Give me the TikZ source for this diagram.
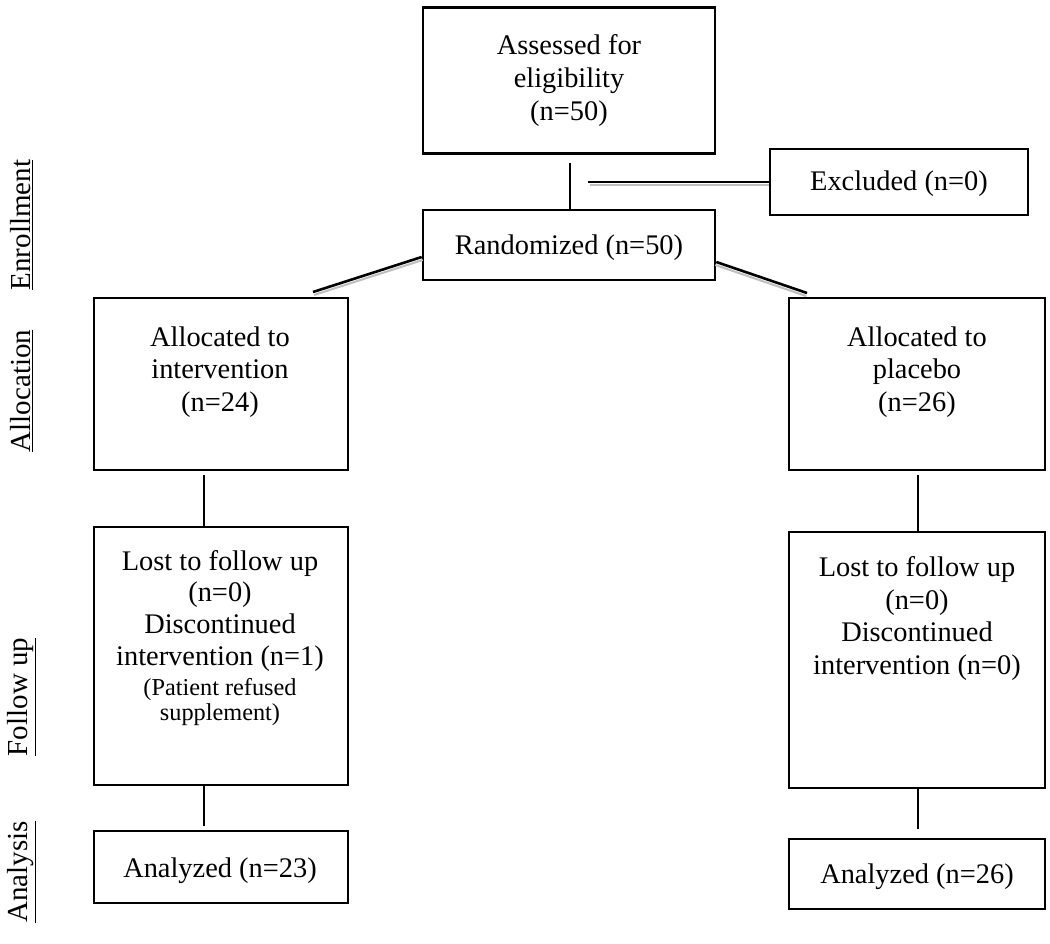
\documentclass[tikz,border=0pt]{standalone}
\usepackage{fontspec}
\setmainfont{Liberation Serif}
\begin{document}
\begin{tikzpicture}[x=1pt,y=-1pt,
  box/.style={draw=black, line width=2.6pt, inner sep=0pt, rectangle},
  txt/.style={align=center, inner sep=0pt, font=\fontsize{28.4}{32.3}\selectfont},
  smalltxt/.style={align=center, inner sep=0pt, font=\fontsize{24.3}{25}\selectfont},
  conn/.style={line width=2.6pt, black},
  shade/.style={line width=2pt, black!25},
  side/.style={rotate=90, inner sep=0pt, font=\fontsize{29}{33}\selectfont}
]
\useasboundingbox[fill=white] (0,0) rectangle (1050,943);

% boxes
\node[box, minimum width=292pt, minimum height=146pt] (assess) at (569,80.5) {};
\node[txt, anchor=north, font=\fontsize{28.4}{33}\selectfont] (assessT) at (569,34) {Assessed for\\eligibility\\(n=50)};

\node[box, minimum width=258pt, minimum height=66pt] (excl) at (899,182) {};
\node[txt] (exclT) at (899,183.5) {Excluded (n=0)};

\node[box, minimum width=292pt, minimum height=70pt] (rand) at (569,245) {};
\node[txt] (randT) at (569,247.5) {Randomized (n=50)};

\node[box, minimum width=254pt, minimum height=172pt] (aint) at (221,384) {};
\node[txt, anchor=north] (aintT) at (220,326.5) {Allocated to\\intervention\\(n=24)};

\node[box, minimum width=256pt, minimum height=172pt] (apla) at (917,384) {};
\node[txt, anchor=north] (aplaT) at (917,326.5) {Allocated to\\placebo\\(n=26)};

\node[box, minimum width=254pt, minimum height=258pt] (lostL) at (221,656) {};
\node[txt, anchor=north, font=\fontsize{28.4}{31.7}\selectfont] (lostLT) at (220,550) {Lost to follow up\\(n=0)\\Discontinued\\intervention (n=1)};
\node[smalltxt, anchor=north] (lostLS) at (220,678) {(Patient refused\\supplement)};

\node[box, minimum width=256pt, minimum height=256pt] (lostR) at (917,660) {};
\node[txt, anchor=north, font=\fontsize{28.4}{32.5}\selectfont] (lostRT) at (917,556.5) {Lost to follow up\\(n=0)\\Discontinued\\intervention (n=0)};

\node[box, minimum width=254pt, minimum height=72pt] (anaL) at (221,867) {};
\node[txt] (anaLT) at (220,871) {Analyzed (n=23)};

\node[box, minimum width=256pt, minimum height=70pt] (anaR) at (917,874) {};
\node[txt] (anaRT) at (917,877) {Analyzed (n=26)};

% side labels
\node[side] (s1) at (22,225) {\underline{Enrollment}};
\node[side] (s2) at (22,391) {\underline{Allocation}};
\node[side] (s3) at (22,697) {\underline{Follow up}};
\node[side] (s4) at (22,872) {\underline{Analysis}};

% connector free ends
\coordinate (v1) at (570,163);
\coordinate (h1) at (588,182);
\coordinate (dl) at (313,292);
\coordinate (dr) at (807,293);
\coordinate (rl) at ([yshift=-12pt]rand.west);
\coordinate (rr) at ([yshift=-17pt]rand.east);
\coordinate (vl1) at (204,475);
\coordinate (vr1) at (918,475);
\coordinate (vl2) at (204,826);
\coordinate (vr2) at (918,829);

% shadows
\draw[shade] ([shift={(2,3)}]h1) -- ([shift={(0,3)}]h1 -| excl.west);
\draw[shade] ([shift={(1,3)}]rl) -- ([shift={(1,3)}]dl);
\draw[shade] ([shift={(-1,3)}]rr) -- ([shift={(-1,3)}]dr);

% connectors
\draw[conn] (v1) -- (v1 |- rand.north);
\draw[conn] (h1) -- (h1 -| excl.west);
\draw[conn] (rl) -- (dl);
\draw[conn] (rr) -- (dr);
\draw[conn] (vl1) -- (vl1 |- lostL.north);
\draw[conn] (vr1) -- (vr1 |- lostR.north);
\draw[conn] (vl2 |- lostL.south) -- (vl2);
\draw[conn] (vr2 |- lostR.south) -- (vr2);
\end{tikzpicture}
\end{document}
